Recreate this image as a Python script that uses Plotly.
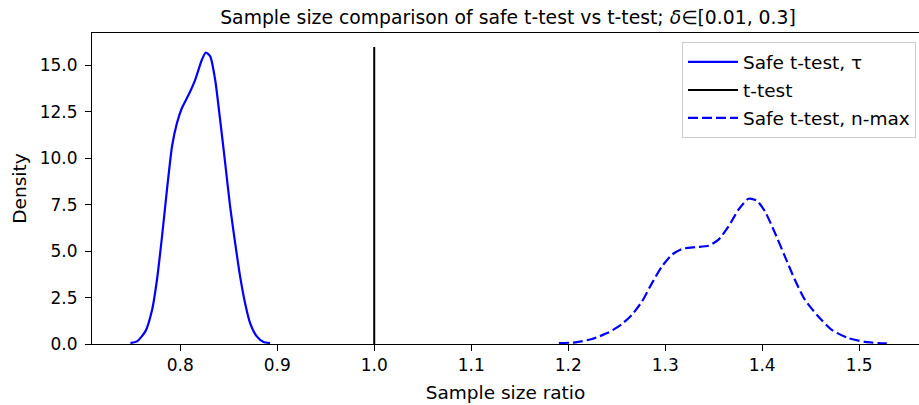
import plotly.graph_objects as go

# Safe t-test, tau (KDE)
tau_x = [0.7486, 0.7555, 0.764, 0.771, 0.776, 0.7812, 0.7863, 0.7915, 0.7966, 0.8017,
         0.8086, 0.8154, 0.8223, 0.8264, 0.8309, 0.836, 0.8411, 0.8463, 0.8514, 0.8566,
         0.8617, 0.8668, 0.872, 0.8789, 0.8858, 0.8926]
tau_y = [0.05, 0.14, 0.68, 1.85, 3.46, 5.79, 8.31, 10.64, 11.9, 12.71,
         13.42, 14.23, 15.31, 15.70, 15.49, 14.23, 12.08, 9.75, 7.41, 5.44,
         3.64, 2.21, 1.13, 0.41, 0.11, 0.05]

# Safe t-test, n-max
nmax_x = [1.1904, 1.2075, 1.2247, 1.2419, 1.2555, 1.2658, 1.2761, 1.2864, 1.2967, 1.3069,
          1.3172, 1.3309, 1.3447, 1.355, 1.3653, 1.3755, 1.3858, 1.3944, 1.4029, 1.4132,
          1.4234, 1.4337, 1.444, 1.4577, 1.4714, 1.4885, 1.5062, 1.5199, 1.5285]
nmax_y = [0.05, 0.09, 0.27, 0.63, 1.08, 1.58, 2.29, 3.28, 4.18, 4.81,
          5.12, 5.22, 5.29, 5.62, 6.33, 7.23, 7.82, 7.73, 7.14, 5.98,
          4.72, 3.46, 2.39, 1.49, 0.77, 0.32, 0.11, 0.05, 0.03]

# t-test reference line
ttest_x = [1.0, 1.0]
ttest_y = [0.0, 16.0]

x_ticks = [0.8, 0.9, 1.0, 1.1, 1.2, 1.3, 1.4, 1.5]
y_ticks = [0.0, 2.5, 5.0, 7.5, 10.0, 12.5, 15.0]

FONT = "DejaVu Sans"
TICK_FS = 17
FS = 18.5
TXT = "#000000"

fig = go.Figure()
fig.add_trace(go.Scatter(x=tau_x, y=tau_y, mode="lines", name="Safe t-test, τ",
                         line=dict(color="#0000ff", width=2.2, shape="spline", smoothing=0.6),
                         legendgroup="a"))
fig.add_trace(go.Scatter(x=ttest_x, y=ttest_y, mode="lines", name="t-test",
                         line=dict(color="#000000", width=2), legendgroup="b"))
fig.add_trace(go.Scatter(x=nmax_x, y=nmax_y, mode="lines", name="Safe t-test, n-max",
                         line=dict(color="#0000ff", width=2.2, dash="10px,4px",
                                   shape="spline", smoothing=0.6),
                         legendgroup="c"))

fig.update_layout(
    width=919, height=405,
    margin=dict(l=92, r=0, t=33, b=61, autoexpand=False),
    paper_bgcolor="white", plot_bgcolor="white",
    font=dict(family=FONT, size=FS, color=TXT),
    title=dict(text="Sample size comparison of safe t-test vs t-test; <i>δ</i>∈[0.01, 0.3]",
               x=0.5528, xref="container", xanchor="center",
               y=0.958, yref="container", yanchor="middle",
               font=dict(family=FONT, size=18.8, color=TXT)),
    showlegend=True,
    legend=dict(x=0.9964, xanchor="right", y=0.97, yanchor="top",
                bgcolor="rgba(255,255,255,0.8)", bordercolor="#cccccc", borderwidth=1,
                font=dict(family=FONT, size=FS, color=TXT),
                traceorder="grouped", tracegroupgap=1, itemwidth=50),
    xaxis=dict(range=[0.709, 1.5617], tickvals=x_ticks, tickformat=".1f",
               showgrid=False, zeroline=False, showline=True, linecolor="black",
               linewidth=1, mirror=True, ticks="outside", ticklen=6, tickcolor="black",
               tickfont=dict(family=FONT, size=TICK_FS, color=TXT),
               title=dict(text="Sample size ratio", standoff=11,
                          font=dict(family=FONT, size=FS, color=TXT))),
    yaxis=dict(range=[0, 16.75], tickvals=y_ticks, tickformat=".1f",
               showgrid=False, zeroline=False, showline=True, linecolor="black",
               linewidth=1, ticks="outside", ticklen=6, tickcolor="black",
               ticklabelstandoff=4,
               tickfont=dict(family=FONT, size=TICK_FS, color=TXT),
               title=dict(text="Density", standoff=8,
                          font=dict(family=FONT, size=FS, color=TXT))),
)

# remove the page's default 8px body margin so the figure fills the window exactly
fig.write_html("out.html", config={"displayModeBar": False},
               post_script="document.body.style.margin='0px';")
